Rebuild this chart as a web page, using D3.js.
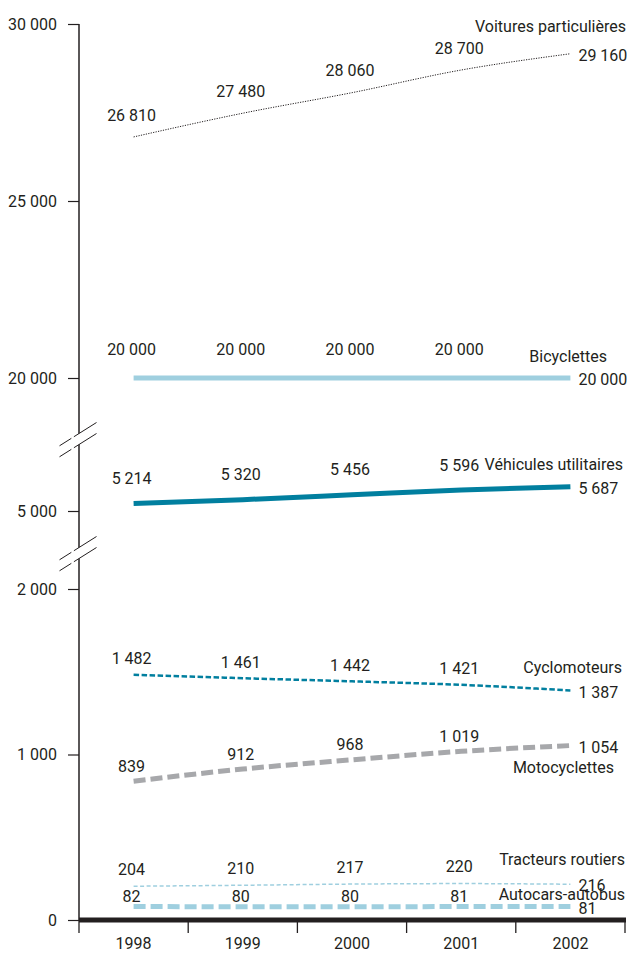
<!DOCTYPE html>
<html><head><meta charset="utf-8">
<script src="https://cdn.jsdelivr.net/npm/d3@7"></script>
<style>
html,body{margin:0;padding:0;background:#fff;}
svg text{font-family:"Liberation Sans Narrow","Arial Narrow",Roboto,sans-serif;font-size:16px;fill:#231f20;}
</style></head>
<body>
<svg id="c" width="628" height="953"></svg>
<script>
// ---- data ----
const years = ["1998","1999","2000","2001","2002"];
const seriesNames = ["Voitures particulières","Bicyclettes","Véhicules utilitaires","Cyclomoteurs","Motocyclettes","Tracteurs routiers","Autocars-autobus"];
const voitures = [26810, 27480, 28060, 28700, 29160];
const bicyclettes = [20000, 20000, 20000, 20000, 20000];
const vehicules = [5214, 5320, 5456, 5596, 5687];
const cyclomoteurs = [1482, 1461, 1442, 1421, 1387];
const motocyclettes = [839, 912, 968, 1019, 1054];
const tracteurs = [204, 210, 217, 220, 216];
const autocars = [82, 80, 80, 81, 81];
const ticksBottom = [0, 1000, 2000];
const ticksMiddle = [5000];
const ticksTop = [20000, 25000, 30000];

// ---- styles / layout ----
const styles = [
  {seg:"top", color:"#231f20", width:1, dash:"1.2,1.3", labelDy:-22, nameX:626, nameDy:-27},
  {seg:"top", color:"#9fcfdf", width:5, dash:null, labelDy:-29, nameX:607, nameDy:-22},
  {seg:"mid", color:"#017f9f", width:5, dash:null, labelDy:-25, nameX:623, nameDy:-22},
  {seg:"bot", color:"#017f9f", width:2.5, dash:"5.5,2.5", labelDy:-16, nameX:622, nameDy:-23},
  {seg:"bot", color:"#a7a8ab", width:5, dash:"12,5", labelDy:-15, nameX:614, nameDy:22},
  {seg:"bot", color:"#9fcfdf", width:1.5, dash:"4,2.5", labelDy:-17, nameX:625, nameDy:-25},
  {seg:"bot", color:"#9fcfdf", width:5, dash:"12,5", labelDy:-10, nameX:625, nameDy:-12}
];
const values = [voitures, bicyclettes, vehicules, cyclomoteurs, motocyclettes, tracteurs, autocars];

const svg = d3.select("#c");
const left = 79, right = 625, base = 920;

const x = d3.scaleBand().domain(years).range([left, right]);
const xc = d => x(d) + x.bandwidth()/2;

const scales = {
  bot: d3.scaleLinear().domain([0, 2000]).range([base, 589]),
  mid: d3.scaleLinear().domain([5000, 6000]).range([511, 475.6]),
  top: d3.scaleLinear().domain([20000, 30000]).range([378, 24])
};

const loc = d3.formatLocale({decimal:",", thousands:"\u00a0", grouping:[3], currency:["","€"]});
const fmt = loc.format(",d");

// y axis segments
function yAxis(scale, ticks){
  const g = svg.append("g").attr("transform", `translate(${left},0)`)
    .call(d3.axisLeft(scale).tickValues(ticks).tickFormat(fmt).tickSize(11).tickPadding(11));
  g.select(".domain").remove();
  g.selectAll(".tick line").attr("stroke","#231f20").attr("stroke-width",1.2);
  g.selectAll(".tick text").attr("font-size",null).attr("font-family",null).attr("fill",null);
}
yAxis(scales.top, ticksTop);
yAxis(scales.mid, ticksMiddle);
yAxis(scales.bot, ticksBottom);

// axis line
svg.append("line").attr("x1",left).attr("x2",left).attr("y1",scales.top(30000)).attr("y2",base)
  .attr("stroke","#231f20").attr("stroke-width",1.5);

// break marks
function brk(cy){
  const dx = 17.5, dyS = 11, gap = 5.5;
  svg.append("polygon")
    .attr("points", `${left-dx},${cy-gap+dyS} ${left+dx},${cy-gap-dyS} ${left+dx},${cy+gap-dyS} ${left-dx},${cy+gap+dyS}`)
    .attr("fill","#fff");
  [-gap, gap].forEach(o => {
    svg.append("line").attr("x1",left-dx-2).attr("y1",cy+o+dyS+1.3).attr("x2",left+dx).attr("y2",cy+o-dyS)
      .attr("stroke","#231f20").attr("stroke-width",1).attr("stroke-dasharray","14,3,40");
  });
}
brk(439);
brk(553);

// x axis
svg.append("line").attr("x1",left).attr("x2",right+1).attr("y1",base).attr("y2",base)
  .attr("stroke","#231f20").attr("stroke-width",5);
const xb = d3.range(years.length+1).map(i => left + i*x.step());
svg.selectAll(".xt").data(xb).join("line")
  .attr("x1",d=>d).attr("x2",d=>d).attr("y1",base).attr("y2",base+13)
  .attr("stroke","#231f20").attr("stroke-width",1.3);
svg.selectAll(".xl").data(years).join("text")
  .attr("x", d => xc(d)).attr("y", 943).attr("dy","0.35em").attr("text-anchor","middle").text(d=>d);

// series
values.forEach((vals, si) => {
  const st = styles[si];
  const y = scales[st.seg];
  const pts = vals.map((v,i) => [xc(years[i]), y(v)]);
  const line = d3.line().curve(d3.curveMonotoneX);
  svg.append("path").attr("d", line(pts)).attr("fill","none")
    .attr("stroke", st.color).attr("stroke-width", st.width)
    .attr("stroke-dasharray", st.dash);
  // value labels
  vals.forEach((v,i) => {
    const last = i === vals.length-1;
    svg.append("text")
      .attr("x", last ? pts[i][0] + 8 : pts[i][0] - 2)
      .attr("y", last ? pts[i][1] + 1.5 : pts[i][1] + st.labelDy)
      .attr("dy","0.35em")
      .attr("text-anchor", last ? "start" : "middle")
      .text(fmt(v));
  });
  // series name
  const lp = pts[pts.length-1];
  svg.append("text").attr("x", st.nameX).attr("y", lp[1] + st.nameDy).attr("dy","0.35em")
    .attr("text-anchor","end").text(seriesNames[si]);
});
</script>
</body></html>
